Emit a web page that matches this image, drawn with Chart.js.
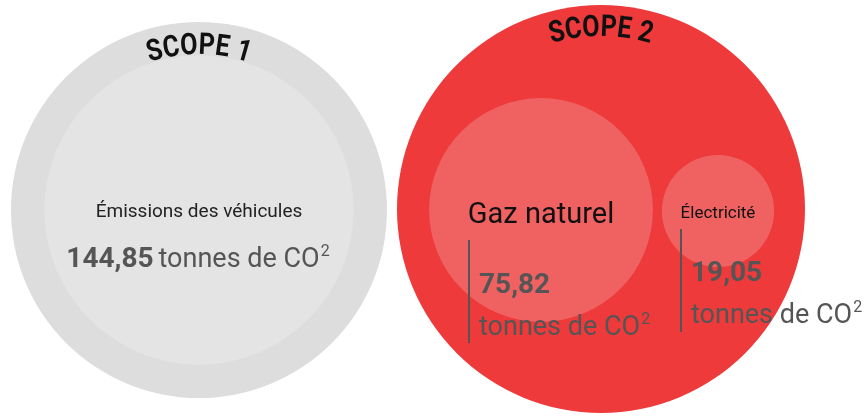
<!DOCTYPE html>
<html>
<head>
<meta charset="utf-8">
<script src="https://cdn.jsdelivr.net/npm/chart.js@4"></script>
<style>
  html, body { margin: 0; padding: 0; background: #fff; }
  #wrap { width: 867px; height: 416px; }
</style>
</head>
<body>
<div id="wrap"><canvas id="chart" width="867" height="416"></canvas></div>
<script>
// data
const scopes = ["SCOPE 1", "SCOPE 2"];
const categories = ["Émissions des véhicules", "Gaz naturel", "Électricité"];
const tonnes = [144.85, 75.82, 19.05];
const scopeOf = [0, 1, 1];
const unit = "tonnes de CO";

// layout (chart units = pixels, see scales below)
const scopeX = [199, 601];
const scopeY = [210, 209];
const scopeR = [188, 204];
const itemX = [199, 541, 718];
const itemY = [210, 210, 211];
const k = 12.85; // px per sqrt(tonne), bubble area ~ value

const innerColors = ["#e3e4e3", "#f06262", "#f06262"];
const outerColors = ["#dcdddc", "#ee3a3b"];

const fmt = (v) => v.toLocaleString("fr-FR", { minimumFractionDigits: 2 });

// condensed text bent along the top of a ring
function arcText(ctx, text, cx, cy, r, font, sx) {
  ctx.save();
  ctx.font = font;
  ctx.fillStyle = "#111";
  ctx.textAlign = "center";
  ctx.textBaseline = "alphabetic";
  const total = ctx.measureText(text).width * sx;
  let a = -Math.PI / 2 - total / r / 2;
  for (const ch of text) {
    const w = ctx.measureText(ch).width * sx;
    const ang = a + w / 2 / r;
    ctx.save();
    ctx.translate(cx + r * Math.cos(ang), cy + r * Math.sin(ang));
    ctx.rotate(ang + Math.PI / 2);
    ctx.scale(sx, 1);
    ctx.fillText(ch, 0, 0);
    ctx.restore();
    a += w / r;
  }
  ctx.restore();
}

// text with superscript 2
function unitText(ctx, x, y, size) {
  ctx.textAlign = "left";
  ctx.font = size + "px Roboto";
  const w1 = ctx.measureText(unit).width;
  ctx.fillText(unit, x, y);
  ctx.font = Math.round(size * 0.6) + "px Roboto";
  ctx.fillText("2", x + w1 + 1, y - size * 0.4);
}

const labels = {
  id: "labels",
  afterDatasetsDraw(chart) {
    const { ctx, scales: { x, y } } = chart;
    ctx.save();

    // scope titles on the rings
    scopes.forEach((s, i) => {
      const cx = x.getPixelForValue(scopeX[i]);
      const cy = y.getPixelForValue(scopeY[i]);
      arcText(ctx, s, cx, cy, i === 0 ? 156 : 173, "bold 30px Roboto", 0.84);
    });

    // scope 1: centred label
    let px = x.getPixelForValue(itemX[0]);
    let py = y.getPixelForValue(itemY[0]);
    ctx.fillStyle = "#222";
    ctx.textAlign = "center";
    ctx.font = "19px Roboto";
    ctx.fillText(categories[0], px, py + 7);
    ctx.font = "bold 28px Roboto";
    const num = fmt(tonnes[0]) + " ";
    const wn = ctx.measureText(num).width;
    ctx.font = "27px Roboto";
    const wu = ctx.measureText(unit).width + 10;
    const left = px - (wn + wu) / 2;
    ctx.fillStyle = "#555";
    ctx.textAlign = "left";
    ctx.font = "bold 28px Roboto";
    ctx.fillText(num, left, py + 57);
    unitText(ctx, left + wn - 2, py + 57, 27);

    // scope 2 items
    const nameFont = [null, "29px Roboto", "17px Roboto"];
    const nameDy = [0, 13, 7];
    const lineX = [0, 469, 681];
    const lineTop = [0, 240, 229];
    const lineBot = [0, 343, 332];
    const numDy = [0, 83, 70];
    const unitDy = [0, 125, 112];
    for (let i = 1; i < categories.length; i++) {
      px = x.getPixelForValue(itemX[i]);
      py = y.getPixelForValue(itemY[i]);
      ctx.fillStyle = "#111";
      ctx.textAlign = "center";
      ctx.font = nameFont[i];
      ctx.fillText(categories[i], px, py + nameDy[i]);

      const lx = x.getPixelForValue(lineX[i]);
      ctx.strokeStyle = "#555";
      ctx.lineWidth = 2;
      ctx.beginPath();
      ctx.moveTo(lx, y.getPixelForValue(lineTop[i]));
      ctx.lineTo(lx, y.getPixelForValue(lineBot[i]));
      ctx.stroke();

      ctx.fillStyle = "#555";
      ctx.textAlign = "left";
      ctx.font = "bold 28px Roboto";
      ctx.fillText(fmt(tonnes[i]), lx + 10, py + numDy[i]);
      unitText(ctx, lx + 10, py + unitDy[i], 27);
    }
    ctx.restore();
  }
};

new Chart(document.getElementById("chart"), {
  type: "bubble",
  data: {
    datasets: [
      {
        label: "détail",
        data: categories.map((c, i) => ({ x: itemX[i], y: itemY[i], r: k * Math.sqrt(tonnes[i]) })),
        backgroundColor: innerColors,
        borderWidth: 0,
        hoverBorderWidth: 0,
        hoverRadius: 0,
        clip: false
      },
      {
        label: "scope",
        data: scopes.map((s, i) => ({ x: scopeX[i], y: scopeY[i], r: scopeR[i] })),
        backgroundColor: outerColors,
        borderWidth: 0,
        hoverBorderWidth: 0,
        hoverRadius: 0,
        clip: false
      }
    ]
  },
  options: {
    responsive: false,
    animation: false,
    events: [],
    layout: { padding: 0, autoPadding: false },
    plugins: { legend: { display: false }, tooltip: { enabled: false } },
    scales: {
      x: { type: "linear", min: 0, max: 867, display: false },
      y: { type: "linear", min: 0, max: 416, reverse: true, display: false }
    }
  },
  plugins: [labels]
});
</script>
</body>
</html>
